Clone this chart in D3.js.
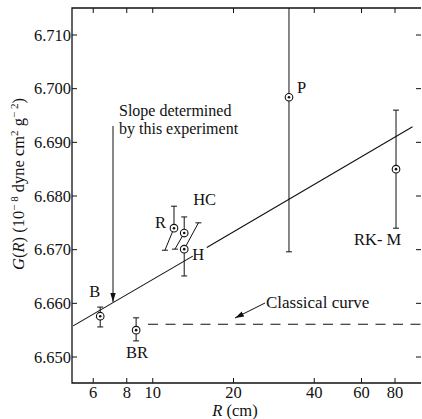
<!DOCTYPE html>
<html>
<head>
<meta charset="utf-8">
<script src="https://cdn.jsdelivr.net/npm/d3@7"></script>
<style>
  body { margin: 0; background: #fff; }
  svg text { font-family: "Liberation Serif", "DejaVu Serif", serif; fill: #111; }
</style>
</head>
<body>
<div id="vis"></div>
<script>
// measurements of G at different separations R
const names   = ["B", "BR", "R", "HC", "H", "P", "RK- M"]
const radius  = [6.37, 8.67, 12.0, 13.1, 13.1, 32.2, 80.7]
const gValue  = [6.6576, 6.6550, 6.6740, 6.6731, 6.6701, 6.6984, 6.6850]
const errUp   = [6.6593, 6.6573, 6.6781, 6.6761, null, 6.7274, 6.6960]
const errDown = [6.6556, 6.6530, null, null, 6.6651, 6.6696, 6.6740]
// slanted bars (range of R covered)
const slantR  = [null, null, 11.1, 12.1, 14.8, null, null]
const slantG  = [null, null, 6.6699, 6.6701, 6.6750, null, null]

// fitted slope, drawn in two pieces (gap at the H label)
const fitR = [[5.05, 14.1], [15.9, 93]]
const fitG = [[6.6558, 6.6688], [6.6704, 6.6929]]

// classical curve
const classR = [9.6, 100]
const classG = [6.6561, 6.6561]

const xTicks = [6, 8, 10, 20, 40, 60, 80]
const yTicks = [6.650, 6.660, 6.670, 6.680, 6.690, 6.700, 6.710]

const W = 422, H = 419
const frame = { left: 72, right: 421, top: 8, bottom: 383 }

// label offsets from each point (px)
const labelOff = [[-11, -19], [-10, 28], [-19, 0], [9, -28], [8, 11], [8, -4], [-42, 76]]

const svg = d3.select('#vis').append('svg')
  .attr('width', W).attr('height', H)

const x = d3.scaleLog().domain([5, 100]).range([frame.left, frame.right])
const y = d3.scaleLinear().domain([6.650, 6.710]).range([357, 35])

const ink = '#111'
const fs = 16.5

// frame lines: left, bottom, top
svg.append('path')
  .attr('d', `M${frame.right},${frame.top}H${frame.left}V${frame.bottom}H${frame.right}`)
  .attr('fill', 'none').attr('stroke', ink).attr('stroke-width', 1.3)

// x ticks (inward, bottom and top)
xTicks.forEach(t => {
  const px = x(t)
  svg.append('line').attr('x1', px).attr('x2', px).attr('y1', frame.bottom).attr('y2', frame.bottom - 5)
    .attr('stroke', ink)
  svg.append('line').attr('x1', px).attr('x2', px).attr('y1', frame.top).attr('y2', frame.top + 5)
    .attr('stroke', ink)
  svg.append('text').attr('x', px).attr('y', 398)
    .attr('text-anchor', 'middle').attr('font-size', fs).text(t)
})

// y ticks (inward, left and right)
yTicks.forEach(t => {
  const py = y(t)
  svg.append('line').attr('x1', frame.left).attr('x2', frame.left + 5).attr('y1', py).attr('y2', py)
    .attr('stroke', ink)
  svg.append('line').attr('x1', frame.right).attr('x2', frame.right - 5).attr('y1', py).attr('y2', py)
    .attr('stroke', ink)
  svg.append('text').attr('x', 71).attr('y', py + 5.5)
    .attr('text-anchor', 'end').attr('font-size', fs).text(d3.format('.3f')(t))
})

// axis titles
const xt = svg.append('text').attr('x', 235).attr('y', 416)
  .attr('text-anchor', 'middle').attr('font-size', fs)
xt.append('tspan').attr('font-style', 'italic').text('R')
xt.append('tspan').text(' (cm)')

const yt = svg.append('text').attr('transform', 'translate(24,184) rotate(-90)')
  .attr('text-anchor', 'middle').attr('font-size', fs)
yt.append('tspan').attr('font-style', 'italic').text('G')
yt.append('tspan').text('(')
yt.append('tspan').attr('font-style', 'italic').text('R')
yt.append('tspan').text(') (10')
yt.append('tspan').attr('font-size', 11).attr('dy', -6).text('\u2212 8')
yt.append('tspan').attr('dy', 6).text(' dyne cm')
yt.append('tspan').attr('font-size', 11).attr('dy', -6).text('2')
yt.append('tspan').attr('dy', 6).text(' g')
yt.append('tspan').attr('font-size', 11).attr('dy', -6).text('\u2212 2')
yt.append('tspan').attr('dy', 6).text(')')

// clip for marks inside the frame
svg.append('clipPath').attr('id', 'plot')
  .append('rect').attr('x', frame.left).attr('y', frame.top)
  .attr('width', frame.right - frame.left).attr('height', frame.bottom - frame.top)
const g = svg.append('g').attr('clip-path', 'url(#plot)')

// fitted line
const line = d3.line().x(d => x(d[0])).y(d => y(d[1]))
fitR.forEach((r, i) => {
  g.append('path').attr('d', line(r.map((v, j) => [v, fitG[i][j]])))
    .attr('stroke', ink).attr('stroke-width', 1.1).attr('fill', 'none')
})

// classical curve (dashed)
g.append('path').attr('d', line(classR.map((v, j) => [v, classG[j]])))
  .attr('stroke', ink).attr('stroke-width', 1.1).attr('fill', 'none')
  .attr('stroke-dasharray', '10,7.5')

// arrow markers
svg.append('defs').append('marker').attr('id', 'arr')
  .attr('viewBox', '0 0 10 10').attr('refX', 10).attr('refY', 5)
  .attr('markerWidth', 9).attr('markerHeight', 9).attr('markerUnits', 'userSpaceOnUse')
  .attr('orient', 'auto')
  .append('path').attr('d', 'M0,2L10,5L0,8Z').attr('fill', ink)

// error bars
const cap = 3
names.forEach((n, i) => {
  const px = x(radius[i]), py = y(gValue[i])
  if (errUp[i] != null) {
    g.append('line').attr('x1', px).attr('x2', px).attr('y1', py).attr('y2', y(errUp[i]))
      .attr('stroke', ink).attr('stroke-width', 1)
    g.append('line').attr('x1', px - cap).attr('x2', px + cap).attr('y1', y(errUp[i])).attr('y2', y(errUp[i]))
      .attr('stroke', ink).attr('stroke-width', 1)
  }
  if (errDown[i] != null) {
    g.append('line').attr('x1', px).attr('x2', px).attr('y1', py).attr('y2', y(errDown[i]))
      .attr('stroke', ink).attr('stroke-width', 1)
    g.append('line').attr('x1', px - cap).attr('x2', px + cap).attr('y1', y(errDown[i])).attr('y2', y(errDown[i]))
      .attr('stroke', ink).attr('stroke-width', 1)
  }
  if (slantR[i] != null) {
    const sx = x(slantR[i]), sy = y(slantG[i])
    g.append('line').attr('x1', px).attr('x2', sx).attr('y1', py).attr('y2', sy)
      .attr('stroke', ink).attr('stroke-width', 1)
    g.append('line').attr('x1', sx - cap).attr('x2', sx + cap).attr('y1', sy).attr('y2', sy)
      .attr('stroke', ink).attr('stroke-width', 1)
  }
})

// points: circle with a dot
names.forEach((n, i) => {
  const px = x(radius[i]), py = y(gValue[i])
  g.append('circle').attr('cx', px).attr('cy', py).attr('r', 3.8)
    .attr('fill', '#fff').attr('stroke', ink).attr('stroke-width', 1.1)
  g.append('circle').attr('cx', px).attr('cy', py).attr('r', 1.3).attr('fill', ink)
  svg.append('text').attr('x', px + labelOff[i][0]).attr('y', py + labelOff[i][1])
    .attr('font-size', fs).text(n)
})

// slope annotation
svg.append('line').attr('x1', 113).attr('x2', 113).attr('y1', 126).attr('y2', 302)
  .attr('stroke', ink).attr('stroke-width', 1).attr('marker-end', 'url(#arr)')
svg.append('text').attr('x', 119).attr('y', 116).attr('font-size', 16).text('Slope determined')
svg.append('text').attr('x', 119).attr('y', 134).attr('font-size', 16).text('by this experiment')

// classical curve annotation
svg.append('line').attr('x1', 265).attr('x2', 235).attr('y1', 303).attr('y2', 318)
  .attr('stroke', ink).attr('stroke-width', 1).attr('marker-end', 'url(#arr)')
svg.append('text').attr('x', 266).attr('y', 308).attr('font-size', 17).text('Classical curve')
</script>
</body>
</html>
